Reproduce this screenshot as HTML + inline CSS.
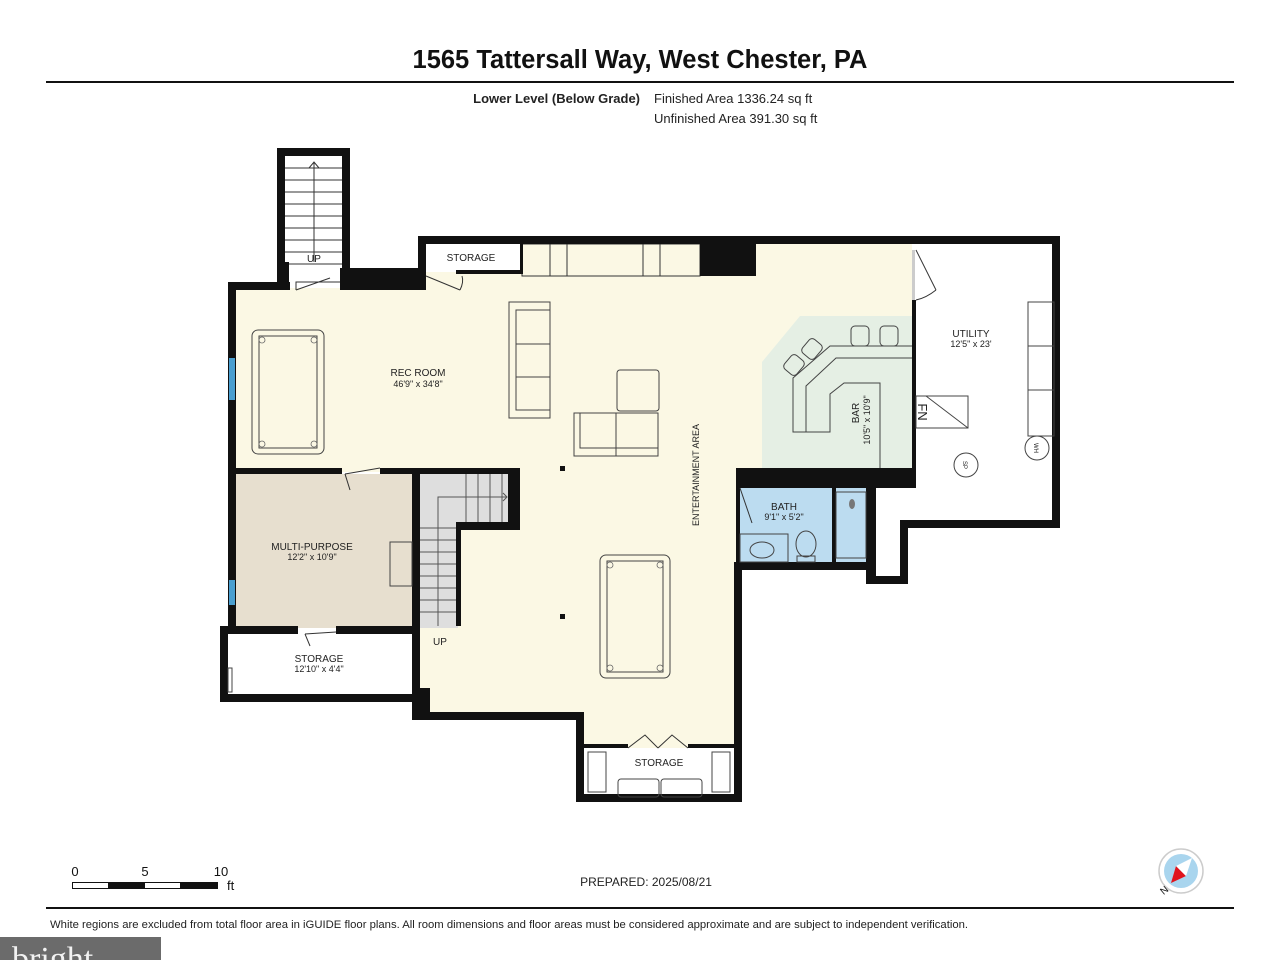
<!DOCTYPE html>
<html><head><meta charset="utf-8"><style>
html,body{margin:0;padding:0;background:#fff;}
svg{display:block;font-family:"Liberation Sans",Arial,sans-serif;}
</style></head><body>
<svg width="1280" height="960" viewBox="0 0 1280 960" xmlns="http://www.w3.org/2000/svg">
<rect width="1280" height="960" fill="#fff"/>
<text x="640" y="68" text-anchor="middle" font-size="25.5" font-weight="bold" fill="#111">1565 Tattersall Way, West Chester, PA</text>
<rect x="46" y="81" width="1188" height="2" fill="#111"/>
<text x="640" y="103" text-anchor="end" font-size="13" font-weight="bold" fill="#222">Lower Level (Below Grade)</text>
<text x="654" y="103" font-size="13" fill="#222">Finished Area 1336.24 sq ft</text>
<text x="654" y="123" font-size="13" fill="#222">Unfinished Area 391.30 sq ft</text>

<!-- fills -->
<g fill="#fbf8e4">
<rect x="236" y="288" width="676" height="184"/>
<rect x="426" y="244" width="486" height="46"/>
<rect x="420" y="470" width="316" height="244"/>
<rect x="584" y="712" width="152" height="36"/>
</g>
<polygon points="762,362 800,316 912,316 912,468 762,468" fill="#e5efe4"/>
<rect x="236" y="474" width="176" height="154" fill="#e7dfcf"/>
<rect x="420" y="474" width="38" height="154" fill="#dedede"/>
<rect x="456" y="474" width="52" height="50" fill="#dedede"/>
<rect x="740" y="488" width="92" height="74" fill="#bcdcf0"/>
<rect x="836" y="488" width="30" height="74" fill="#bcdcf0"/>
<rect x="285" y="156" width="57" height="112" fill="#fff"/>
<rect x="426" y="244" width="96" height="28" fill="#fff"/>

<!-- stairs top -->
<g stroke="#333" stroke-width="1">
<line x1="285" y1="168" x2="342" y2="168"/><line x1="285" y1="180" x2="342" y2="180"/><line x1="285" y1="192" x2="342" y2="192"/><line x1="285" y1="204" x2="342" y2="204"/><line x1="285" y1="216" x2="342" y2="216"/><line x1="285" y1="228" x2="342" y2="228"/><line x1="285" y1="240" x2="342" y2="240"/><line x1="285" y1="252" x2="342" y2="252"/><line x1="285" y1="264" x2="342" y2="264"/>
<line x1="314" y1="162" x2="314" y2="262"/><polyline points="309,168 314,162 319,168" fill="none"/>
</g>
<text x="314" y="262" text-anchor="middle" font-size="10" fill="#222">UP</text>
<!-- shelves top -->
<g stroke="#333" stroke-width="1" fill="none">
<rect x="522" y="244" width="178" height="32"/>
<line x1="550" y1="244" x2="550" y2="276"/><line x1="567" y1="244" x2="567" y2="276"/><line x1="643" y1="244" x2="643" y2="276"/><line x1="660" y1="244" x2="660" y2="276"/>
</g>
<!-- lower stairs -->
<g stroke="#555" stroke-width="1">
<line x1="420" y1="540" x2="456" y2="540"/><line x1="420" y1="552" x2="456" y2="552"/><line x1="420" y1="564" x2="456" y2="564"/><line x1="420" y1="576" x2="456" y2="576"/><line x1="420" y1="588" x2="456" y2="588"/><line x1="420" y1="600" x2="456" y2="600"/><line x1="420" y1="612" x2="456" y2="612"/><line x1="420" y1="528" x2="456" y2="528"/>
<line x1="466" y1="474" x2="466" y2="522"/><line x1="478" y1="474" x2="478" y2="522"/><line x1="490" y1="474" x2="490" y2="522"/><line x1="502" y1="474" x2="502" y2="522"/>
<polyline points="438,626 438,497 507,497" fill="none"/><polyline points="503,493 507,497 503,501" fill="none"/>
</g>
<text x="440" y="645" text-anchor="middle" font-size="10" fill="#222">UP</text>

<!-- walls -->
<g fill="#111">
<rect x="277" y="148" width="8" height="120"/><rect x="342" y="148" width="8" height="120"/><rect x="277" y="148" width="73" height="8"/>
<rect x="228" y="282" width="62" height="8"/><rect x="277" y="262" width="12" height="28"/>
<rect x="340" y="268" width="86" height="22"/>
<rect x="418" y="236" width="642" height="8"/><rect x="418" y="236" width="8" height="40"/>
<rect x="456" y="270" width="66" height="4"/><rect x="520" y="244" width="3" height="30"/>
<rect x="700" y="244" width="56" height="32"/>
<rect x="228" y="282" width="8" height="350"/>
<rect x="236" y="468" width="106" height="6"/><rect x="380" y="468" width="140" height="6"/>
<rect x="412" y="468" width="8" height="240"/>
<rect x="508" y="468" width="12" height="62"/><rect x="456" y="522" width="60" height="8"/><rect x="456" y="522" width="5" height="104"/>
<rect x="220" y="626" width="78" height="8"/><rect x="336" y="626" width="82" height="8"/>
<rect x="220" y="626" width="8" height="76"/><rect x="220" y="694" width="198" height="8"/>
<rect x="412" y="688" width="18" height="32"/><rect x="412" y="712" width="172" height="8"/>
<rect x="576" y="712" width="8" height="90"/><rect x="576" y="794" width="166" height="8"/><rect x="734" y="562" width="8" height="240"/>
<rect x="584" y="744" width="44" height="4"/><rect x="688" y="744" width="48" height="4"/>
<rect x="736" y="468" width="180" height="20"/><rect x="736" y="468" width="4" height="96"/>
<rect x="736" y="562" width="140" height="8"/><rect x="832" y="488" width="4" height="76"/>
<rect x="866" y="476" width="10" height="108"/><rect x="866" y="576" width="42" height="8"/>
<rect x="900" y="520" width="8" height="64"/><rect x="900" y="520" width="160" height="8"/>
<rect x="1052" y="236" width="8" height="292"/>
<rect x="912" y="300" width="4" height="176"/>
</g>
<rect x="229" y="358" width="6" height="42" fill="#4a9fd0"/>
<rect x="229" y="580" width="6" height="25" fill="#4a9fd0"/>
<rect x="912" y="250" width="3" height="50" fill="#ccc"/>

<!-- doors -->
<g stroke="#333" stroke-width="1" fill="none">
<polyline points="296,290 296,282 340,282"/><line x1="296" y1="290" x2="330" y2="278"/>
<line x1="426" y1="276" x2="460" y2="290"/><path d="M460,290 Q464,282 462,276"/>
<line x1="916" y1="250" x2="936" y2="290"/><path d="M936,290 Q926,298 916,300"/>
<line x1="345" y1="474" x2="380" y2="468"/><line x1="345" y1="474" x2="350" y2="490"/>
<line x1="305" y1="634" x2="336" y2="632"/><line x1="305" y1="634" x2="310" y2="646"/>
<path d="M628,748 L645,735 L658,748 M658,748 L672,735 L688,748"/>
<line x1="740" y1="488" x2="752" y2="523"/>
</g>
<!-- furniture -->
<g stroke="#444" stroke-width="1" fill="none">
<rect x="252" y="330" width="72" height="124" rx="6"/><rect x="259" y="336" width="58" height="112"/>
<rect x="600" y="555" width="70" height="123" rx="6"/><rect x="607" y="561" width="56" height="111"/>
<rect x="509" y="302" width="41" height="116"/><rect x="516" y="310" width="34" height="100"/>
<line x1="516" y1="344" x2="550" y2="344"/><line x1="516" y1="377" x2="550" y2="377"/>
<rect x="617" y="370" width="42" height="41" rx="3"/>
<rect x="574" y="413" width="84" height="43"/><polyline points="580,413 580,448 658,448"/><line x1="616" y1="413" x2="616" y2="456"/>
<polyline points="912,346 830,346 793,378 793,432 830,432 830,394 844,383 880,383 880,468"/>
<polyline points="912,358 836,358 806,386 806,432"/>
<rect x="851" y="326" width="18" height="20" rx="4"/><rect x="880" y="326" width="18" height="20" rx="4"/>
<rect x="786" y="356" width="16" height="18" rx="4" transform="rotate(40 794 365)"/><rect x="804" y="340" width="16" height="18" rx="4" transform="rotate(40 812 349)"/>
<rect x="1028" y="302" width="26" height="134"/><line x1="1028" y1="346" x2="1054" y2="346"/><line x1="1028" y1="390" x2="1054" y2="390"/>
<rect x="916" y="396" width="52" height="32"/><line x1="926" y1="396" x2="968" y2="428"/>
<circle cx="966" cy="465" r="12"/><circle cx="1037" cy="448" r="12"/>
<rect x="740" y="534" width="48" height="28"/><ellipse cx="762" cy="550" rx="12" ry="8"/>
<ellipse cx="806" cy="544" rx="10" ry="13"/><rect x="797" y="556" width="18" height="6"/>
<rect x="836" y="492" width="30" height="66"/>
<rect x="390" y="542" width="22" height="44"/>
<rect x="228" y="668" width="4" height="24"/>
<rect x="588" y="752" width="18" height="40"/><rect x="712" y="752" width="18" height="40"/>
<rect x="618" y="779" width="41" height="18" rx="3"/><rect x="661" y="779" width="41" height="18" rx="3"/>
</g>
<g fill="none" stroke="#666" stroke-width="0.8">
<circle cx="262" cy="340" r="3"/><circle cx="314" cy="340" r="3"/><circle cx="262" cy="444" r="3"/><circle cx="314" cy="444" r="3"/>
<circle cx="610" cy="565" r="3"/><circle cx="660" cy="565" r="3"/><circle cx="610" cy="668" r="3"/><circle cx="660" cy="668" r="3"/>
</g>
<rect x="560" y="466" width="5" height="5" fill="#111"/><rect x="560" y="614" width="5" height="5" fill="#111"/>
<ellipse cx="852" cy="504" rx="3" ry="5" fill="#777"/>
<!-- labels -->
<g font-size="10" fill="#222" text-anchor="middle">
<text x="471" y="261">STORAGE</text>
<text x="418" y="376">REC ROOM</text><text x="418" y="387" font-size="9">46'9" x 34'8"</text>
<text x="971" y="337">UTILITY</text><text x="971" y="347" font-size="9">12'5" x 23'</text>
<text x="784" y="510">BATH</text><text x="784" y="520" font-size="9">9'1" x 5'2"</text>
<text x="312" y="550">MULTI-PURPOSE</text><text x="312" y="560" font-size="9">12'2" x 10'9"</text>
<text x="319" y="662">STORAGE</text><text x="319" y="672" font-size="9">12'10" x 4'4"</text>
<text x="659" y="766">STORAGE</text>
<text transform="translate(699,475) rotate(-90)" font-size="9">ENTERTAINMENT AREA</text>
<text transform="translate(859,413) rotate(-90)">BAR</text>
<text transform="translate(870,420) rotate(-90)" font-size="9">10'5" x 10'9"</text>
<text transform="translate(918,412) rotate(90)" font-size="13">FN</text>
<text transform="translate(963,465) rotate(90)" font-size="6">SP</text>
<text transform="translate(1034,448) rotate(90)" font-size="6">WH</text>
</g>
<!-- scale bar -->
<g font-size="13" fill="#111">
<text x="75" y="876" text-anchor="middle">0</text><text x="145" y="876" text-anchor="middle">5</text><text x="221" y="876" text-anchor="middle">10</text><text x="227" y="890">ft</text>
</g>
<rect x="72.5" y="882.5" width="145" height="6" fill="#fff" stroke="#111"/>
<rect x="108" y="882" width="37" height="7" fill="#111"/><rect x="180" y="882" width="38" height="7" fill="#111"/>
<text x="646" y="886" text-anchor="middle" font-size="12" fill="#222">PREPARED: 2025/08/21</text>
<!-- compass -->
<circle cx="1181" cy="871" r="22" fill="#fff" stroke="#ccc" stroke-width="1.5"/>
<circle cx="1181" cy="871" r="17" fill="#a9d5ee"/>
<polygon points="1171,883 1176,866 1186,876" fill="#e0141c"/>
<polygon points="1176,866 1192,858 1186,876" fill="#fff"/>
<text x="1161" y="896" font-size="10" fill="#111" transform="rotate(-40 1161 892)">N</text>
<rect x="46" y="907" width="1188" height="2" fill="#111"/>
<text x="50" y="928" font-size="11.3" fill="#222">White regions are excluded from total floor area in iGUIDE floor plans. All room dimensions and floor areas must be considered approximate and are subject to independent verification.</text>
<rect x="0" y="937" width="161" height="23" fill="#6b6b6b"/>
<text x="12" y="970" font-size="34" font-family="Liberation Serif,serif" fill="#f2f2f2">bright</text>
</svg>
</body></html>
